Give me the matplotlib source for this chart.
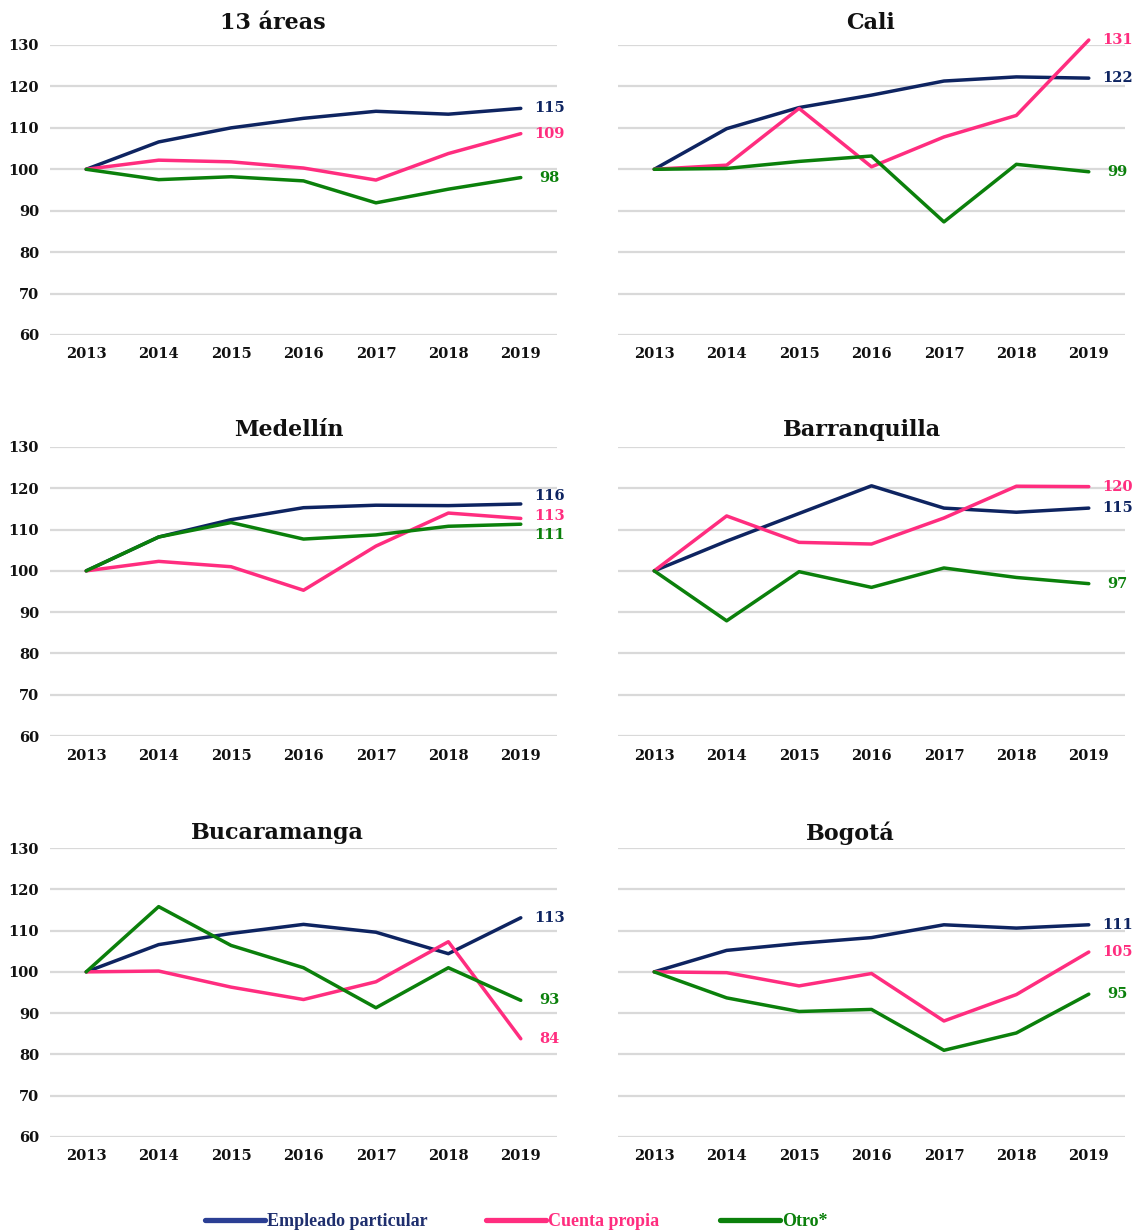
import matplotlib
matplotlib.use("Agg")
import matplotlib.pyplot as plt
from matplotlib.lines import Line2D
from matplotlib import transforms

years = ["2013", "2014", "2015", "2016", "2017", "2018", "2019"]
series_names = ["Empleado particular", "Cuenta propia", "Otro*"]

areas13_empleado = [100, 106.6, 110.0, 112.3, 114.0, 113.3, 114.7]
areas13_cuenta = [100, 102.2, 101.8, 100.3, 97.4, 103.8, 108.6]
areas13_otro = [100, 97.5, 98.2, 97.2, 91.9, 95.2, 98.0]

cali_empleado = [100, 109.8, 114.9, 117.9, 121.3, 122.3, 122.0]
cali_cuenta = [100, 101.0, 114.7, 100.6, 107.8, 113.0, 131.2]
cali_otro = [100, 100.2, 101.9, 103.2, 87.3, 101.2, 99.4]

medellin_empleado = [100, 108.2, 112.4, 115.3, 115.9, 115.8, 116.2]
medellin_cuenta = [100, 102.3, 101.0, 95.3, 106.0, 114.0, 112.7]
medellin_otro = [100, 108.2, 111.7, 107.7, 108.7, 110.8, 111.3]

barranquilla_empleado = [100, 107.2, 113.9, 120.6, 115.2, 114.2, 115.2]
barranquilla_cuenta = [100, 113.3, 106.9, 106.5, 112.8, 120.5, 120.4]
barranquilla_otro = [100, 87.9, 99.8, 96.0, 100.7, 98.4, 96.9]

bucaramanga_empleado = [100, 106.6, 109.3, 111.5, 109.6, 104.4, 113.1]
bucaramanga_cuenta = [100, 100.2, 96.3, 93.3, 97.6, 107.3, 83.8]
bucaramanga_otro = [100, 115.8, 106.4, 101.0, 91.3, 101.0, 93.1]

bogota_empleado = [100, 105.2, 106.9, 108.3, 111.4, 110.6, 111.4]
bogota_cuenta = [100, 99.8, 96.6, 99.6, 88.1, 94.5, 104.8]
bogota_otro = [100, 93.7, 90.4, 90.9, 81.0, 85.2, 94.6]

panel_titles = ["13 áreas", "Cali", "Medellín", "Barranquilla", "Bucaramanga", "Bogotá"]
panel_data = [
    (areas13_empleado, areas13_cuenta, areas13_otro),
    (cali_empleado, cali_cuenta, cali_otro),
    (medellin_empleado, medellin_cuenta, medellin_otro),
    (barranquilla_empleado, barranquilla_cuenta, barranquilla_otro),
    (bucaramanga_empleado, bucaramanga_cuenta, bucaramanga_otro),
    (bogota_empleado, bogota_cuenta, bogota_otro),
]
y_ticks = [60, 70, 80, 90, 100, 110, 120, 130]

# ---- styling / layout ----
W, H = 1135, 1232
colors = ["#0E2461", "#FF2D7F", "#0B800B"]
legend_line_colors = ["#2B3F94", "#FF2D7F", "#0B800B"]
legend_text_colors = ["#1F2F6E", "#FF2D7F", "#0B800B"]
FONT = "DejaVu Serif"
plt.rcParams["font.family"] = [FONT]

fig = plt.figure(figsize=(W / 100, H / 100), dpi=100)

col_x = [50, 618]
row_y = [(45, 335), (447, 736), (848, 1137)]
title_x = [273, 871, 289, 862, 277, 850]
title_y = [23, 430, 833]
ax_w = 507

for i, (title, data) in enumerate(zip(panel_titles, panel_data)):
    r, c = divmod(i, 2)
    top, bot = row_y[r]
    ax = fig.add_axes([col_x[c] / W, 1 - bot / H, ax_w / W, (bot - top) / H])
    xs = list(range(len(years)))
    for vals, col in zip(data, colors):
        ax.plot(xs, vals, color=col, lw=2.5, solid_capstyle="round",
                solid_joinstyle="round", clip_on=False, zorder=3)
    ax.set_xlim(-0.5, len(years) - 0.5)
    ax.set_ylim(60, 130)
    ax.set_yticks(y_ticks)
    ax.set_xticks(xs)
    ax.set_xticklabels(years, fontsize=10.5, fontweight="bold", family=FONT)
    if c == 0:
        ax.set_yticklabels([str(t) for t in y_ticks], fontsize=10.5,
                           fontweight="bold", family=FONT)
    else:
        ax.set_yticklabels([])
    ax.tick_params(length=0, pad=8, colors="#111111")
    ax.tick_params(axis="x", pad=9)
    ax.grid(axis="y", color="#D9D9D9", lw=1.6, zorder=0)
    for s in ax.spines.values():
        s.set_visible(False)
    ax.set_facecolor("none")

    # end labels with iterative de-cluttering (in pixel space)
    ends = [(vals[-1], col) for vals, col in zip(data, colors)]
    ax_h_px = bot - top
    ppu = ax_h_px / 70.0
    adj = sorted([[v * ppu, v, col] for v, col in ends], key=lambda t: t[0])
    min_gap = 19.5
    for _ in range(20):
        moved = False
        for k in range(1, len(adj)):
            d = adj[k][0] - adj[k - 1][0]
            if d < min_gap - 0.01:
                push = (min_gap - d) / 2
                adj[k][0] += push
                adj[k - 1][0] -= push
                moved = True
        if not moved:
            break
    for ypx, v, col in adj:
        trans = transforms.offset_copy(ax.transData, fig=fig, x=29 * 0.72, y=0, units="points")
        ax.text(len(years) - 1, ypx / ppu, f"{v:.0f}", transform=trans,
                ha="center", va="center", fontsize=10.5, fontweight="bold",
                color=col, family=FONT, clip_on=False)

    fig.text(title_x[i] / W, 1 - title_y[r] / H, title, ha="center", va="center",
             fontsize=16, fontweight="bold", family=FONT, color="#111111")

# legend
leg_x = [205, 486, 720]
for name, lc, tc, lx in zip(series_names, legend_line_colors, legend_text_colors, leg_x):
    h = Line2D([0], [0], color=lc, lw=3.8, solid_capstyle="round")
    leg = fig.legend([h], [name], loc="center left",
                     bbox_to_anchor=(lx / W, 1 - 1222 / H), frameon=False,
                     borderpad=0, borderaxespad=0, handlelength=3.3,
                     handletextpad=0.12,
                     prop={"family": "Liberation Serif", "weight": "bold", "size": 13})
    for t in leg.get_texts():
        t.set_color(tc)

fig.savefig("out.png", dpi=100)
